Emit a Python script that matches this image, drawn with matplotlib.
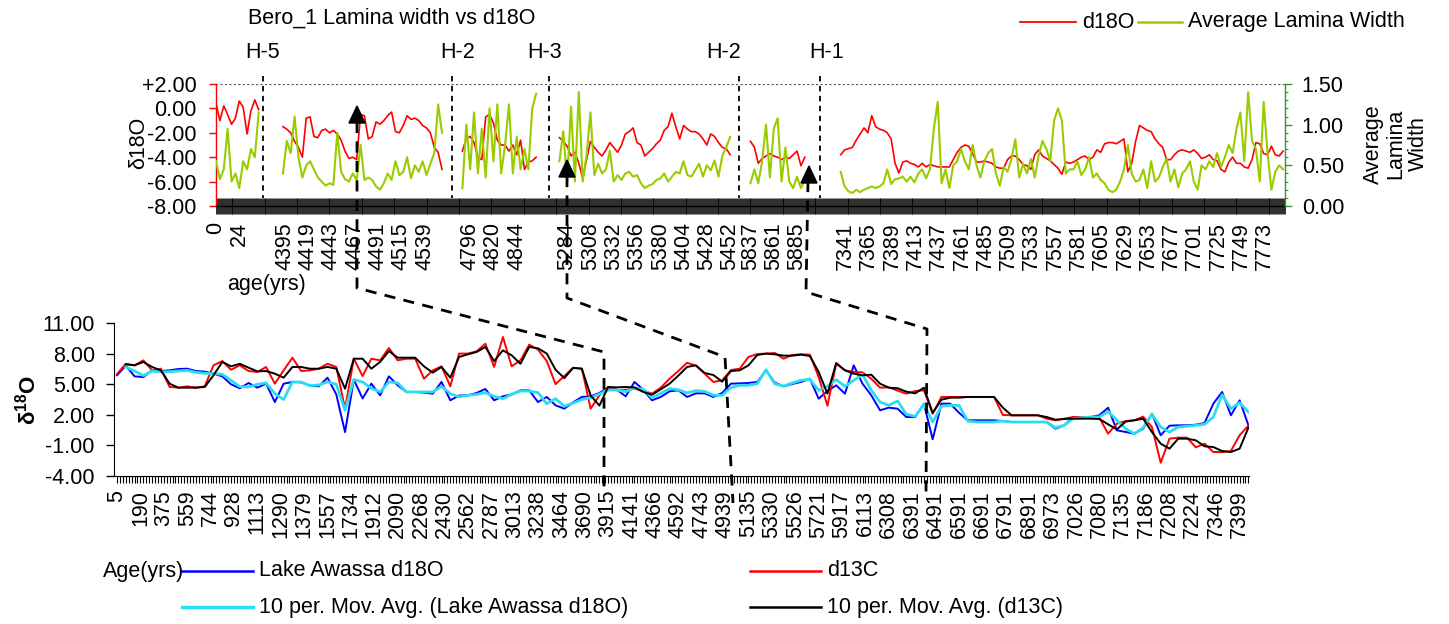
import numpy as np
import matplotlib
matplotlib.use('Agg')
import matplotlib.pyplot as plt
from matplotlib.lines import Line2D
from matplotlib.patches import Polygon
from matplotlib.ticker import FixedLocator, FuncFormatter, MultipleLocator

plt.rcParams['font.family'] = ['Liberation Sans', 'DejaVu Sans']
plt.rcParams['axes.unicode_minus'] = False
plt.rcParams['mathtext.fontset'] = 'custom'
plt.rcParams['mathtext.rm'] = 'Liberation Sans'
plt.rcParams['mathtext.bf'] = 'Liberation Sans:bold'
plt.rcParams['mathtext.it'] = 'Liberation Sans:italic'

# ------------------------------------------------------------------ top data
# category axis of the top chart: six age segments laid side by side
top_seg_start_idx = [0, 69, 254, 354, 551, 644]
top_seg_age0 = [0, 4393, 4788, 5276, 5837, 7336]
top_seg_len = [46, 166, 80, 177, 60, 458]
top_n_cat = 1103
top_step = 4  # values below are read every 4th age

d18o_seg1 = [0.4, -1.0, 0.2, -0.5, -1.3, -0.8, 0.6, 0.1, -2.1, -0.2, 0.7, -0.1]
d18o_seg2 = [-1.5, -1.7, -2.0, -2.7, -3.2, -4.0, -0.8, -0.7, -2.3, -2.4,
             -1.8, -1.7, -2.0, -1.8, -2.1, -2.6, -3.5, -4.1, -4.0, -4.2,
             -0.5, -0.6, -2.5, -2.3, -1.1, -1.3, -1.0, -0.6, -0.3, -1.9,
             -2.0, -1.4, -0.6, -0.9, -0.8, -1.0, -1.4, -1.6, -2.0, -3.2,
             -3.6, -5.0]
d18o_seg3 = [-3.5, -2.5, -2.3, -2.8, -4.0, -4.2, -0.7, -0.5, -1.2, -2.6,
             -3.0, -3.0, -3.5, -3.0, -3.8, -2.6, -5.0, -4.4, -4.3, -4.0]
d18o_seg4 = [-2.4, -2.7, -3.1, -3.9, -3.6, -4.5, -5.7, -4.2, -2.7, -3.2,
             -3.6, -3.9, -3.4, -2.8, -3.2, -3.6, -3.0, -2.1, -1.9, -1.6,
             -2.8, -3.0, -3.9, -3.6, -3.3, -2.9, -2.6, -1.8, -1.5, -0.4,
             -1.5, -2.5, -1.4, -1.7, -1.9, -1.9, -2.1, -2.5, -3.0, -2.1,
             -2.3, -2.8, -3.2, -3.3, -3.8]
d18o_seg5 = [-2.7, -3.2, -4.5, -4.1, -3.9, -3.7, -3.9, -4.0, -4.2, -4.0,
             -4.1, -3.8, -3.5, -4.7, -4.0]
d18o_seg6 = [-3.8, -3.4, -3.3, -3.2, -2.6, -2.1, -1.6, -2.0, -0.6, -1.5,
             -1.7, -1.8, -2.0, -2.5, -4.5, -5.3, -4.4, -4.3, -4.5, -4.6,
             -4.8, -4.5, -4.8, -4.6, -4.7, -4.8, -4.8, -4.8, -4.8,
             -4.2, -3.6, -3.2, -3.0, -3.1, -3.7, -4.4, -4.4, -4.3, -4.4,
             -4.5, -4.8, -4.9, -4.9, -4.2, -3.9, -3.9, -4.2, -4.6, -4.7,
             -5.0, -3.8, -3.4, -3.9, -4.1, -4.3, -4.6, -4.9, -5.4, -4.4,
             -4.5, -4.4, -4.2, -4.0, -3.9, -4.2, -4.0, -3.4, -3.6, -2.9,
             -2.8, -2.8, -2.9, -2.7, -2.5, -5.2, -4.5, -2.7, -1.4, -1.6,
             -1.8, -1.9, -2.5, -2.9, -3.2, -4.2, -4.2, -3.8, -3.5, -3.4,
             -3.5, -3.6, -3.4, -3.7, -4.1, -4.0, -3.8, -4.2, -4.3, -5.0,
             -5.2, -4.4, -4.0, -4.5, -4.5, -4.8, -4.9, -4.2, -2.8, -2.9,
             -3.7, -3.8, -3.1, -3.8, -3.9, -3.5]

lamina_seg1 = [0.55, 0.33, 0.45, 0.95, 0.30, 0.40, 0.22, 0.55, 0.45, 0.70, 0.60, 1.15]
lamina_seg2 = [0.40, 0.80, 0.65, 1.10, 0.60, 0.35, 0.50, 0.55, 0.45, 0.35,
               0.30, 0.25, 0.28, 0.26, 0.90, 0.42, 0.33, 0.30, 0.40, 0.32,
               0.75, 0.32, 0.35, 0.32, 0.24, 0.20, 0.28, 0.40, 0.32, 0.55,
               0.38, 0.42, 0.60, 0.34, 0.50, 0.42, 0.55, 0.38, 0.52, 0.65,
               1.25, 0.90]
lamina_seg3 = [0.22, 1.00, 0.45, 1.15, 0.40, 0.95, 0.35, 1.20, 0.55, 1.25,
               0.40, 0.75, 1.25, 0.40, 0.85, 0.45, 0.70, 0.45, 1.20, 1.38]
lamina_seg4 = [0.55, 0.92, 0.30, 1.22, 0.30, 1.40, 0.30, 0.62, 1.15, 0.38,
               0.52, 0.40, 0.45, 0.68, 0.30, 0.38, 0.32, 0.40, 0.42, 0.36,
               0.38, 0.28, 0.22, 0.25, 0.27, 0.32, 0.34, 0.40, 0.30, 0.36,
               0.42, 0.40, 0.55, 0.38, 0.36, 0.44, 0.52, 0.36, 0.50, 0.44,
               0.56, 0.36, 0.62, 0.72, 0.85]
lamina_seg5 = [0.28, 0.45, 0.28, 0.55, 1.00, 0.35, 0.95, 1.08, 0.30, 0.72,
               0.30, 0.22, 0.36, 0.22, 0.32]
lamina_seg6 = [0.42, 0.24, 0.18, 0.16, 0.20, 0.17, 0.20, 0.22, 0.24, 0.22,
               0.24, 0.28, 0.45, 0.27, 0.33, 0.34, 0.36, 0.30, 0.36, 0.29,
               0.40, 0.45, 0.34, 0.45, 0.95, 1.28, 0.28, 0.45, 0.22,
               0.50, 0.55, 0.70, 0.55, 0.45, 0.75, 0.50, 0.35, 0.55, 0.65,
               0.70, 0.40, 0.25, 0.48, 0.42, 0.58, 0.82, 0.35, 0.52, 0.40,
               0.58, 0.35, 0.62, 0.80, 0.70, 0.55, 1.05, 1.20, 1.05, 0.40,
               0.45, 0.45, 0.55, 0.38, 0.45, 0.60, 0.35, 0.40, 0.32, 0.28,
               0.20, 0.17, 0.20, 0.30, 0.45, 0.75, 0.40, 0.30, 0.32, 0.45,
               0.22, 0.55, 0.30, 0.35, 0.48, 0.58, 0.30, 0.45, 0.23, 0.40,
               0.45, 0.55, 0.30, 0.20, 0.50, 0.45, 0.55, 0.48, 0.65, 0.48,
               0.60, 0.75, 0.65, 0.95, 1.15, 0.55, 1.40, 0.80, 0.70, 0.30,
               1.28, 0.65, 0.20, 0.42, 0.50, 0.45]

d18o_segments = [d18o_seg1, d18o_seg2, d18o_seg3, d18o_seg4, d18o_seg5, d18o_seg6]
lamina_segments = [lamina_seg1, lamina_seg2, lamina_seg3, lamina_seg4, lamina_seg5, lamina_seg6]

top_tick_ages = [0, 24, 4395, 4419, 4443, 4467, 4491, 4515, 4539, 4796, 4820, 4844,
                 5284, 5308, 5332, 5356, 5380, 5404, 5428, 5452, 5837, 5861, 5885,
                 7341, 7365, 7389, 7413, 7437, 7461, 7485, 7509, 7533, 7557, 7581,
                 7605, 7629, 7653, 7677, 7701, 7725, 7749, 7773]

hiatus_labels = ['H-5', 'H-2', 'H-3', 'H-2', 'H-1']

# ------------------------------------------------------------------ bottom data
bottom_tick_labels = ['5', '190', '375', '559', '744', '928', '1113', '1290', '1379',
                      '1557', '1734', '1912', '2090', '2268', '2430', '2562', '2787',
                      '3013', '3238', '3464', '3690', '3915', '4141', '4366', '4592',
                      '4743', '4939', '5135', '5330', '5526', '5721', '5917', '6113',
                      '6308', '6391', '6491', '6591', '6691', '6791', '6891', '6973',
                      '7026', '7080', '7135', '7186', '7208', '7224', '7346', '7399']
bottom_n_cat = 388
bottom_label_every = 8
bottom_step = 3  # values below are read every 3rd category

awassa_d18o = [5.87, 6.82, 5.77, 5.7, 6.36, 6.29, 6.36, 6.49, 6.52, 6.29,
               6.23, 6.03, 5.77, 4.99, 4.6, 5.12, 4.66, 5.05, 3.25, 5.05,
               5.22, 5.18, 4.86, 4.79, 5.64, 4.0, 0.3, 5.45, 3.6, 5.05,
               3.91, 5.77, 4.89, 4.24, 4.24, 4.17, 4.07, 5.22, 3.42, 3.88,
               3.91, 4.14, 4.53, 3.42, 3.81, 4.0, 4.4, 4.4, 3.25,
               3.75, 2.93, 2.6, 3.22, 3.75, 3.81, 4.14, 4.66, 4.46, 3.81,
               5.22, 4.46, 3.42, 3.75, 4.3, 4.4, 3.75, 4.1, 4.1, 3.75,
               4.14, 5.05, 5.08, 5.12, 5.22, 6.36, 5.15, 4.79, 5.02, 5.22,
               5.54, 3.58, 4.33, 4.89, 4.07, 6.85, 5.05, 3.91, 2.44, 2.7,
               2.6, 1.78, 1.78, 3.09, -0.4, 3.09, 3.09, 2.2,
               1.46, 1.46, 1.46, 1.46, 1.39, 1.29, 1.29, 1.29, 1.29, 1.29,
               0.64, 0.97, 1.78, 1.78, 1.78, 1.95, 2.7, 0.48, 0.31, 0.15,
               0.64, 2.11, -0.01, 0.93, 0.97, 0.97, 1.03, 1.2, 3.09, 4.24,
               1.95, 3.42, 0.97]
d13c = [6.0, 7.0, 6.85, 7.34, 6.36, 6.52, 4.73, 4.66, 4.79, 4.66,
        4.79, 6.85, 7.27, 6.42, 6.85, 6.29, 6.2, 6.69, 5.05, 6.36,
        7.6, 6.29, 6.36, 6.52, 7.0, 6.69, 2.6, 7.5, 5.8, 7.5,
        7.34, 8.55, 7.34, 7.5, 7.5, 5.54, 6.36, 6.75, 4.79, 8.0,
        8.0, 8.22, 8.97, 6.69, 9.63, 6.75, 7.34, 8.88, 8.39,
        7.27, 5.0, 5.8, 6.62, 6.52, 2.6, 3.9, 4.73, 4.4, 4.46,
        4.56, 4.37, 4.07, 4.66, 5.54, 6.29, 7.1, 6.82, 6.03, 5.22,
        5.38, 6.39, 6.52, 7.67, 7.96, 8.0, 8.06, 7.5, 7.86, 7.93,
        7.9, 5.7, 2.9, 7.0, 6.36, 6.2, 6.16, 5.54, 4.66, 4.69,
        4.37, 4.07, 4.33, 4.4, 2.1, 3.75, 3.75, 3.75,
        3.75, 3.75, 3.75, 3.75, 1.98, 1.95, 1.95, 1.95, 1.95, 1.62,
        1.46, 1.62, 1.78, 1.78, 1.78, 1.72, 0.15, 1.13, 1.39, 1.46,
        1.82, 0.8, -2.7, -0.34, -0.24, -0.24, -1.19, -0.83, -1.65, -1.65,
        -1.55, 0.0, 0.93]
awassa_mavg = [np.nan, 6.69, 6.29, 5.84, 6.29, 6.2, 6.23, 6.29, 6.36, 6.16,
               6.07, 6.03, 5.97, 5.38, 4.76, 4.73, 4.99, 5.12, 4.07, 3.5,
               5.22, 5.22, 4.86, 4.92, 5.22, 4.99, 2.44, 5.45, 5.22, 4.6,
               4.24, 5.22, 5.12, 4.24, 4.24, 4.24, 4.24, 4.79, 4.07, 3.75,
               3.91, 4.0, 4.17, 3.81, 3.58, 4.0, 4.33, 4.33, 4.17,
               3.09, 3.58, 2.83, 3.16, 3.48, 3.68, 4.04, 4.43, 4.43, 4.27,
               4.63, 4.53, 3.68, 4.1, 4.56, 4.46, 4.14, 4.37, 4.3, 3.91,
               3.91, 4.66, 4.89, 4.89, 5.05, 6.42, 5.02, 4.82, 5.12, 5.38,
               5.48, 4.4, 4.79, 5.45, 4.79, 5.38, 5.97, 4.4, 3.25, 2.93,
               3.35, 2.05, 1.85, 3.03, 1.3, 2.83, 2.93, 2.93,
               1.39, 1.29, 1.29, 1.29, 1.39, 1.29, 1.29, 1.29, 1.29, 1.29,
               0.74, 0.97, 1.62, 1.72, 1.78, 1.78, 2.34, 1.46, 0.64, 0.15,
               0.74, 2.05, 0.8, 0.31, 0.8, 0.87, 0.97, 1.07, 1.78, 3.97,
               2.6, 3.19, 2.27]
d13c_mavg = [np.nan, 6.95, 6.85, 7.18, 6.69, 6.36, 5.05, 4.66, 4.66, 4.66,
             4.73, 5.87, 7.18, 6.75, 7.0, 6.62, 6.26, 6.29, 6.03, 5.64,
             6.69, 6.69, 6.52, 6.52, 6.69, 6.52, 4.56, 7.5, 7.5, 6.52,
             7.18, 8.25, 7.6, 7.6, 7.6, 6.75, 6.13, 6.69, 5.64, 7.67,
             7.93, 8.16, 8.65, 7.27, 8.32, 7.83, 7.0, 8.65, 8.52,
             8.0, 6.42, 5.6, 6.59, 6.52, 3.9, 2.9, 4.73, 4.69, 4.73,
             4.69, 4.24, 3.97, 4.5, 5.05, 5.84, 6.69, 6.85, 6.1, 5.9,
             5.25, 6.29, 6.36, 6.85, 7.86, 8.0, 7.93, 7.8, 7.8, 7.9,
             7.76, 6.2, 4.07, 7.08, 6.36, 6.03, 5.87, 5.93, 5.05, 4.66,
             4.6, 4.27, 4.1, 4.66, 2.18, 3.48, 3.68, 3.68,
             3.75, 3.75, 3.75, 3.75, 2.7, 1.95, 1.95, 1.95, 1.95, 1.78,
             1.52, 1.59, 1.62, 1.62, 1.62, 1.59, 1.07, 0.57, 1.33, 1.46,
             1.62, 0.31, -0.83, -1.32, -0.34, -0.34, -0.5, -1.09, -1.16, -1.55,
             -1.65, -1.32, 0.74]

# ------------------------------------------------------------------ figure
W, H = 1449, 624
fig = plt.figure(figsize=(W / 100, H / 100), dpi=100)


def fx(x):
    return x / W


def fy(y):
    return 1 - y / H


RED = '#FF0000'
GREEN = '#99CC00'
AXGREEN = '#2E9A2E'
BLUE = '#0000FF'
CYAN = '#2BDDF0'
FS = 15.5

# ---------------- top chart
axT = fig.add_axes([fx(216), fy(206), (1285 - 216) / W, (206 - 84) / H])
axT.set_xlim(0, top_n_cat - 1)
axT.set_ylim(-8, 2)
axT.set_facecolor('none')
for s in ['top', 'right']:
    axT.spines[s].set_visible(False)
axT.spines['left'].set_color(RED)
axT.spines['left'].set_linewidth(1.0)
axT.spines['bottom'].set_linewidth(1.0)
axT.axhline(2.0, color='0.35', lw=1.6, ls=(0, (1, 1)), zorder=1)

axT.set_yticks(np.arange(-8, 2.1, 2))
axT.yaxis.set_major_formatter(FuncFormatter(
    lambda v, p: ('+%.2f' % v) if v > 0 else ('%.2f' % v)))
axT.tick_params(axis='y', direction='out', length=5, width=1.0, color=RED,
                labelcolor='black', labelsize=FS, pad=9)


def age_to_idx(age):
    for s0, a0, n in zip(top_seg_start_idx, top_seg_age0, top_seg_len):
        if a0 <= age < a0 + n:
            return s0 + (age - a0)
    return np.nan


tick_idx = [age_to_idx(a) for a in top_tick_ages]
axT.xaxis.set_major_locator(FixedLocator(tick_idx))
axT.xaxis.set_minor_locator(FixedLocator(np.arange(top_n_cat)))
axT.set_xticklabels([str(a) for a in top_tick_ages], rotation=90, fontsize=15.5)
axT.tick_params(axis='x', which='both', direction='inout', length=11.5, width=0.58,
                color='black')
axT.tick_params(axis='x', which='major', pad=6)

axR = axT.twinx()
axR.set_ylim(0, 1.5)
for s in ['top', 'left', 'bottom']:
    axR.spines[s].set_visible(False)
axR.spines['right'].set_color(AXGREEN)
axR.spines['right'].set_linewidth(1.0)
axR.set_yticks([0, 0.5, 1.0, 1.5])
axR.yaxis.set_major_formatter(FuncFormatter(lambda v, p: '%.2f' % v))
axR.yaxis.set_minor_locator(MultipleLocator(0.1))
axR.tick_params(axis='y', which='major', direction='out', length=5, width=1.0,
                color=AXGREEN, labelcolor='black', labelsize=FS, pad=7)
axR.tick_params(axis='y', which='minor', direction='out', length=2, width=0.8,
                color=AXGREEN)

for s in range(len(top_seg_age0)):
    a0 = top_seg_age0[s]
    ages = np.arange(a0, a0 + top_seg_len[s], top_step)
    xs = top_seg_start_idx[s] + (ages - a0)
    v1 = d18o_segments[s]
    v2 = lamina_segments[s]
    axT.plot(xs[:len(v1)], v1[:len(xs)], color=RED, lw=1.2, zorder=3)
    axR.plot(xs[:len(v2)], v2[:len(xs)], color=GREEN, lw=1.5, zorder=3)

fig.text(fx(139), fy(143), 'δ18O', rotation=90, ha='center', va='center', fontsize=FS)
fig.text(fx(1396), fy(144), 'Average\nLamina\nWidth', rotation=90, ha='center',
         va='center', multialignment='center', fontsize=FS, linespacing=1.1)
fig.text(fx(392), fy(18), 'Bero_1 Lamina width vs d18O', ha='center', va='center',
         fontsize=FS)
fig.text(fx(266), fy(285), 'age(yrs)', ha='center', va='center', fontsize=FS)

# top legend
fig.add_artist(Line2D([fx(1020), fx(1076)], [fy(22), fy(22)], color=RED, lw=1.3))
fig.text(fx(1082), fy(22), 'd18O', ha='left', va='center', fontsize=FS)
fig.add_artist(Line2D([fx(1138), fx(1182)], [fy(22), fy(22)], color=GREEN, lw=1.8))
fig.text(fx(1188), fy(22), 'Average Lamina Width', ha='left', va='center', fontsize=FS)

# hiatus markers
h_x = [263, 452, 549, 739, 820]
h_lab_x = [263, 458, 545, 724, 827]
for x, lx, lab in zip(h_x, h_lab_x, hiatus_labels):
    fig.add_artist(Line2D([fx(x), fx(x)], [fy(76), fy(198)], color='black', lw=1.3,
                          dashes=(3, 2.5)))
    fig.text(fx(lx), fy(52), lab, ha='center', va='center', fontsize=FS)

# connector arrows between the charts
connectors = [
    [(357, 122), (357, 288), (604, 352), (604, 494)],
    [(567, 176), (567, 298), (725, 357), (733, 503)],
    [(808, 181), (806, 292), (927, 329), (926, 494)],
]
tips = [(357, 106), (567, 160), (809, 166)]
for pts, (tx, ty) in zip(connectors, tips):
    fig.add_artist(Line2D([fx(p[0]) for p in pts], [fy(p[1]) for p in pts],
                          color='black', lw=2.0, dashes=(4, 3), zorder=10))
    tri = Polygon([(fx(tx), fy(ty)), (fx(tx - 8), fy(ty + 17)), (fx(tx + 8), fy(ty + 17))],
                  closed=True, transform=fig.transFigure, color='black', zorder=11)
    fig.add_artist(tri)

# ---------------- bottom chart
axB = fig.add_axes([fx(114), fy(476), (1249 - 114) / W, (476 - 323) / H])
axB.set_xlim(-1.03, 387.2)
axB.set_ylim(-4, 11)
axB.set_facecolor('none')
for s in ['top', 'right']:
    axB.spines[s].set_visible(False)
axB.set_yticks(np.arange(-4, 11.1, 3))
axB.yaxis.set_major_formatter(FuncFormatter(lambda v, p: '%.2f' % v))
axB.tick_params(axis='y', direction='out', length=5.8, width=1.0, labelsize=15.5, pad=8)
cats = np.arange(0, bottom_n_cat, bottom_step)
axB.xaxis.set_major_locator(FixedLocator(np.arange(len(bottom_tick_labels)) * bottom_label_every))
axB.xaxis.set_minor_locator(FixedLocator(np.arange(bottom_n_cat)))
axB.set_xticklabels(bottom_tick_labels, rotation=90, fontsize=15.5)
axB.tick_params(axis='x', which='both', direction='out', length=5, width=0.8)
axB.tick_params(axis='x', which='major', pad=5)

axB.plot(cats, awassa_d18o, color=BLUE, lw=1.4, zorder=3)
axB.plot(cats, d13c, color=RED, lw=1.4, zorder=4)
axB.plot(cats, awassa_mavg, color=CYAN, lw=2.0, zorder=5)
axB.plot(cats, d13c_mavg, color='black', lw=1.4, zorder=6)

fig.text(fx(28), fy(400), r'$\mathbf{\delta^{18}O}$', rotation=90, ha='center',
         va='center', fontsize=16)

# bottom legend
fig.text(fx(103), fy(571), 'Age(yrs)', ha='left', va='center', fontsize=FS)
leg = [((182, 571), BLUE, 1.8, 'Lake Awassa d18O'),
       ((750, 571), RED, 1.8, 'd13C'),
       ((182, 607), CYAN, 2.4, '10 per. Mov. Avg. (Lake Awassa d18O)'),
       ((750, 607), 'black', 1.8, '10 per. Mov. Avg. (d13C)')]
for (x, y), c, lw, lab in leg:
    fig.add_artist(Line2D([fx(x), fx(x + 71)], [fy(y), fy(y)], color=c, lw=lw))
    fig.text(fx(x + 77), fy(y), lab, ha='left', va='center', fontsize=FS)

fig.savefig('out.png', dpi=100)
